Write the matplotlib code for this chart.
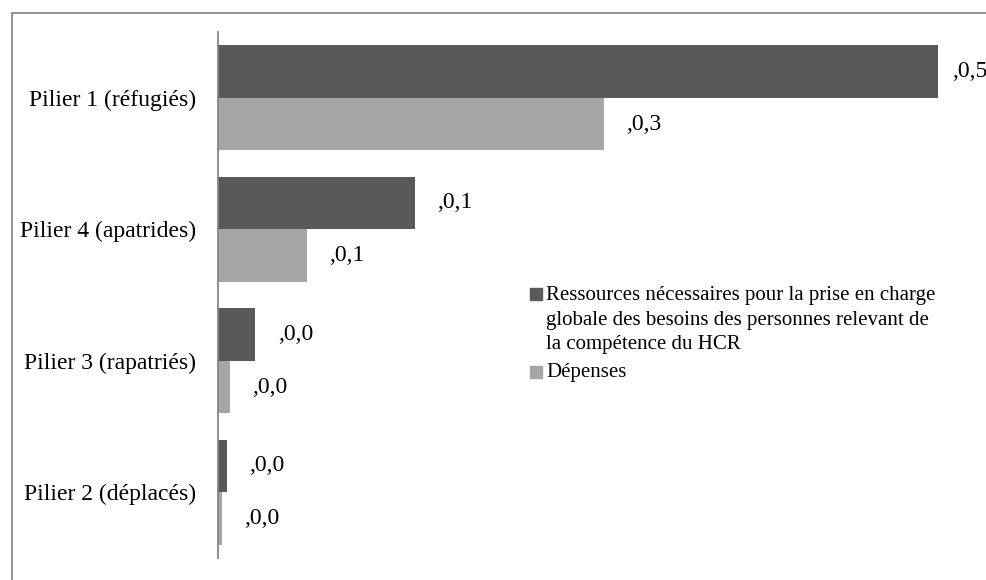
import matplotlib
matplotlib.use("Agg")
import matplotlib.pyplot as plt
from matplotlib.patches import Rectangle

plt.rcParams['font.family'] = ['Liberation Serif', 'DejaVu Serif']

piliers = ["Pilier 1 (réfugiés)", "Pilier 4 (apatrides)",
           "Pilier 3 (rapatriés)", "Pilier 2 (déplacés)"]
besoins = [0.500, 0.137, 0.026, 0.006]
depenses = [0.268, 0.062, 0.008, 0.003]
legende = ["Ressources nécessaires pour la prise en charge\n"
           "globale des besoins des personnes relevant de\n"
           "la compétence du HCR",
           "Dépenses"]

fonce = "#595959"
clair = "#a6a6a6"

W, H = 987, 580
fig = plt.figure(figsize=(W / 100, H / 100), dpi=100)

# cadre gris autour du graphique
fig.patches.append(Rectangle((12 / W, -0.05), 1.1, (H - 13) / H + 0.05,
                             transform=fig.transFigure, fill=False,
                             edgecolor="#8a8a8a", linewidth=1.3))

ax = fig.add_axes([218 / W, 22 / H, (980 - 218) / W, (558 - 32) / H])
y = list(range(len(piliers)))
h = 0.40
b1 = ax.barh([i - h / 2 for i in y], besoins, height=h, color=fonce)
b2 = ax.barh([i + h / 2 for i in y], depenses, height=h, color=clair)

for bars, vals in ((b1, besoins), (b2, depenses)):
    for bar, v in zip(bars, vals):
        txt = "," + f"{v:.1f}".replace(".", ",")
        dx = 10 if v > 0.45 else 16   # moins de place au bord droit
        ax.annotate(txt, (bar.get_width(), bar.get_y() + bar.get_height() / 2),
                    xytext=(dx, 0), textcoords="offset points",
                    ha="left", va="center", fontsize=17, color="black",
                    annotation_clip=False)

ax.set_xlim(0, 0.5 * (980 - 218) / (938 - 218))
ax.set_ylim(len(piliers) - 0.5, -0.5)
ax.set_yticks(y)
ax.set_yticklabels(piliers, fontsize=17)
ax.tick_params(axis="y", length=0, pad=16)
ax.set_xticks([])
for s in ("top", "right", "bottom"):
    ax.spines[s].set_visible(False)
ax.spines["left"].set_color("#868686")
ax.spines["left"].set_linewidth(1.3)

# légende : carré aligné sur la première ligne de chaque entrée
leg_x, sq = 530, 12
for (ytop, sqtop), lab, col in zip(((286, 288), (363, 366)), legende, (fonce, clair)):
    fig.patches.append(Rectangle((leg_x / W, 1 - (sqtop + sq) / H), sq / W, sq / H,
                                 transform=fig.transFigure, color=col))
    fig.text((leg_x + sq + 4) / W, 1 - ytop / H, lab, ha="left",
             va="top", fontsize=15, linespacing=1.4,
             multialignment="left")

fig.savefig("out.png", dpi=100)
